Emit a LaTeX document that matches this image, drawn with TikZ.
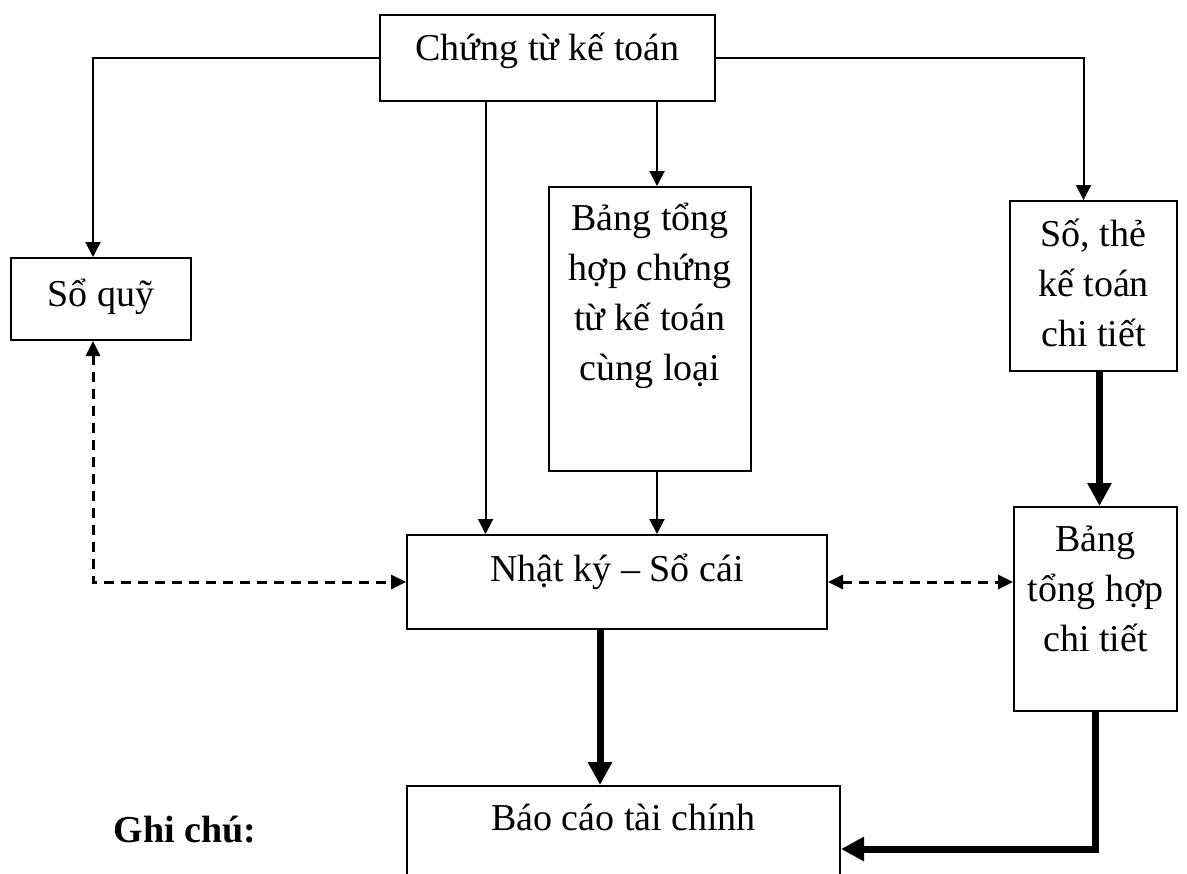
\documentclass[tikz,border=0pt]{standalone}
\usepackage{fontspec}
\setmainfont{Liberation Serif}
\usepackage{tikz}
\usetikzlibrary{arrows.meta}

\begin{document}
\begin{tikzpicture}[x=0.5pt, y=-0.5pt]
            \tikzstyle{box} = [draw, line width=1pt, anchor=north, inner ysep=0pt, text height=22.7pt, font=\fontsize{19}{25}\selectfont]
            \tikzstyle{arrow} = [-{Triangle[length=7.5pt,width=7.5pt]}, line width=1pt]
            \tikzstyle{dasharrow} = [{Triangle[length=7.5pt,width=7pt]}-{Triangle[length=7.5pt,width=7pt]}, line width=1.5pt, dash pattern=on 5pt off 3.5pt]
            \tikzstyle{thickarrow} = [-{Triangle[length=11.5pt,width=11.5pt]}, line width=3.5pt]

            \clip (0,0) rectangle (1187,873);

            \node[box, minimum width=167.5pt, text depth=20.3pt] (ctkt) at (547.5,14) {Chứng từ kế toán};
            \node[box, minimum width=90pt, text height=24pt, text depth=17pt] (soquy) at (101,257) {Sổ quỹ};
            \node[box, minimum width=101pt, align=center, text height=96.7pt, text depth=45.3pt] (bthct) at (650,186) {Bảng tổng\\hợp chứng\\từ kế toán\\cùng loại};
            \node[box, minimum width=83.5pt, align=center, text height=72.5pt, text depth=12.5pt] (sthe) at (1093.5,200) {Số, thẻ\\kế toán\\chi tiết};
            \node[box, minimum width=210pt, text height=23pt, text depth=24pt] (nksc) at (617,534) {Nhật ký – Sổ cái};
            \node[box, minimum width=81.5pt, align=center, text height=72pt, text depth=30pt] (bthct2) at (1095.5,506) {Bảng\\tổng hợp\\chi tiết};
            \node[box, minimum width=216.5pt, text height=22pt, text depth=41pt] (bctc) at (623.5,785) {Báo cáo tài chính};
            \node[font=\bfseries\fontsize{19}{25}\selectfont] (ghichu) at (185,830) {Ghi chú:};

            \draw[arrow] (ctkt.west) -| ([xshift=-4pt]soquy.north);
            \draw[arrow] (ctkt.east) -| ([xshift=-5pt]sthe.north);
            \draw[arrow] ([xshift=-31pt]ctkt.south) -- ([xshift=-31pt]ctkt.south |- nksc.north);
            \draw[arrow] ([xshift=3.5pt]bthct.north |- ctkt.south) -- ([xshift=3.5pt]bthct.north);
            \draw[arrow] ([xshift=3.5pt]bthct.south) -- ([xshift=3.5pt]bthct.south |- nksc.north);
            \draw[dasharrow] ([xshift=-4pt]soquy.south) |- (nksc.west);
            \draw[dasharrow] (nksc.east) -- (nksc.east -| bthct2.west);
            \draw[thickarrow] ([xshift=3pt]sthe.south) -- ([xshift=3pt]sthe.south |- bthct2.north);
            \draw[thickarrow] ([xshift=-8.5pt]nksc.south) -- ([xshift=-8.5pt]nksc.south |- bctc.north);
            \draw[thickarrow] (bthct2.south) |- (bctc.east);
        \end{tikzpicture}
\end{document}
